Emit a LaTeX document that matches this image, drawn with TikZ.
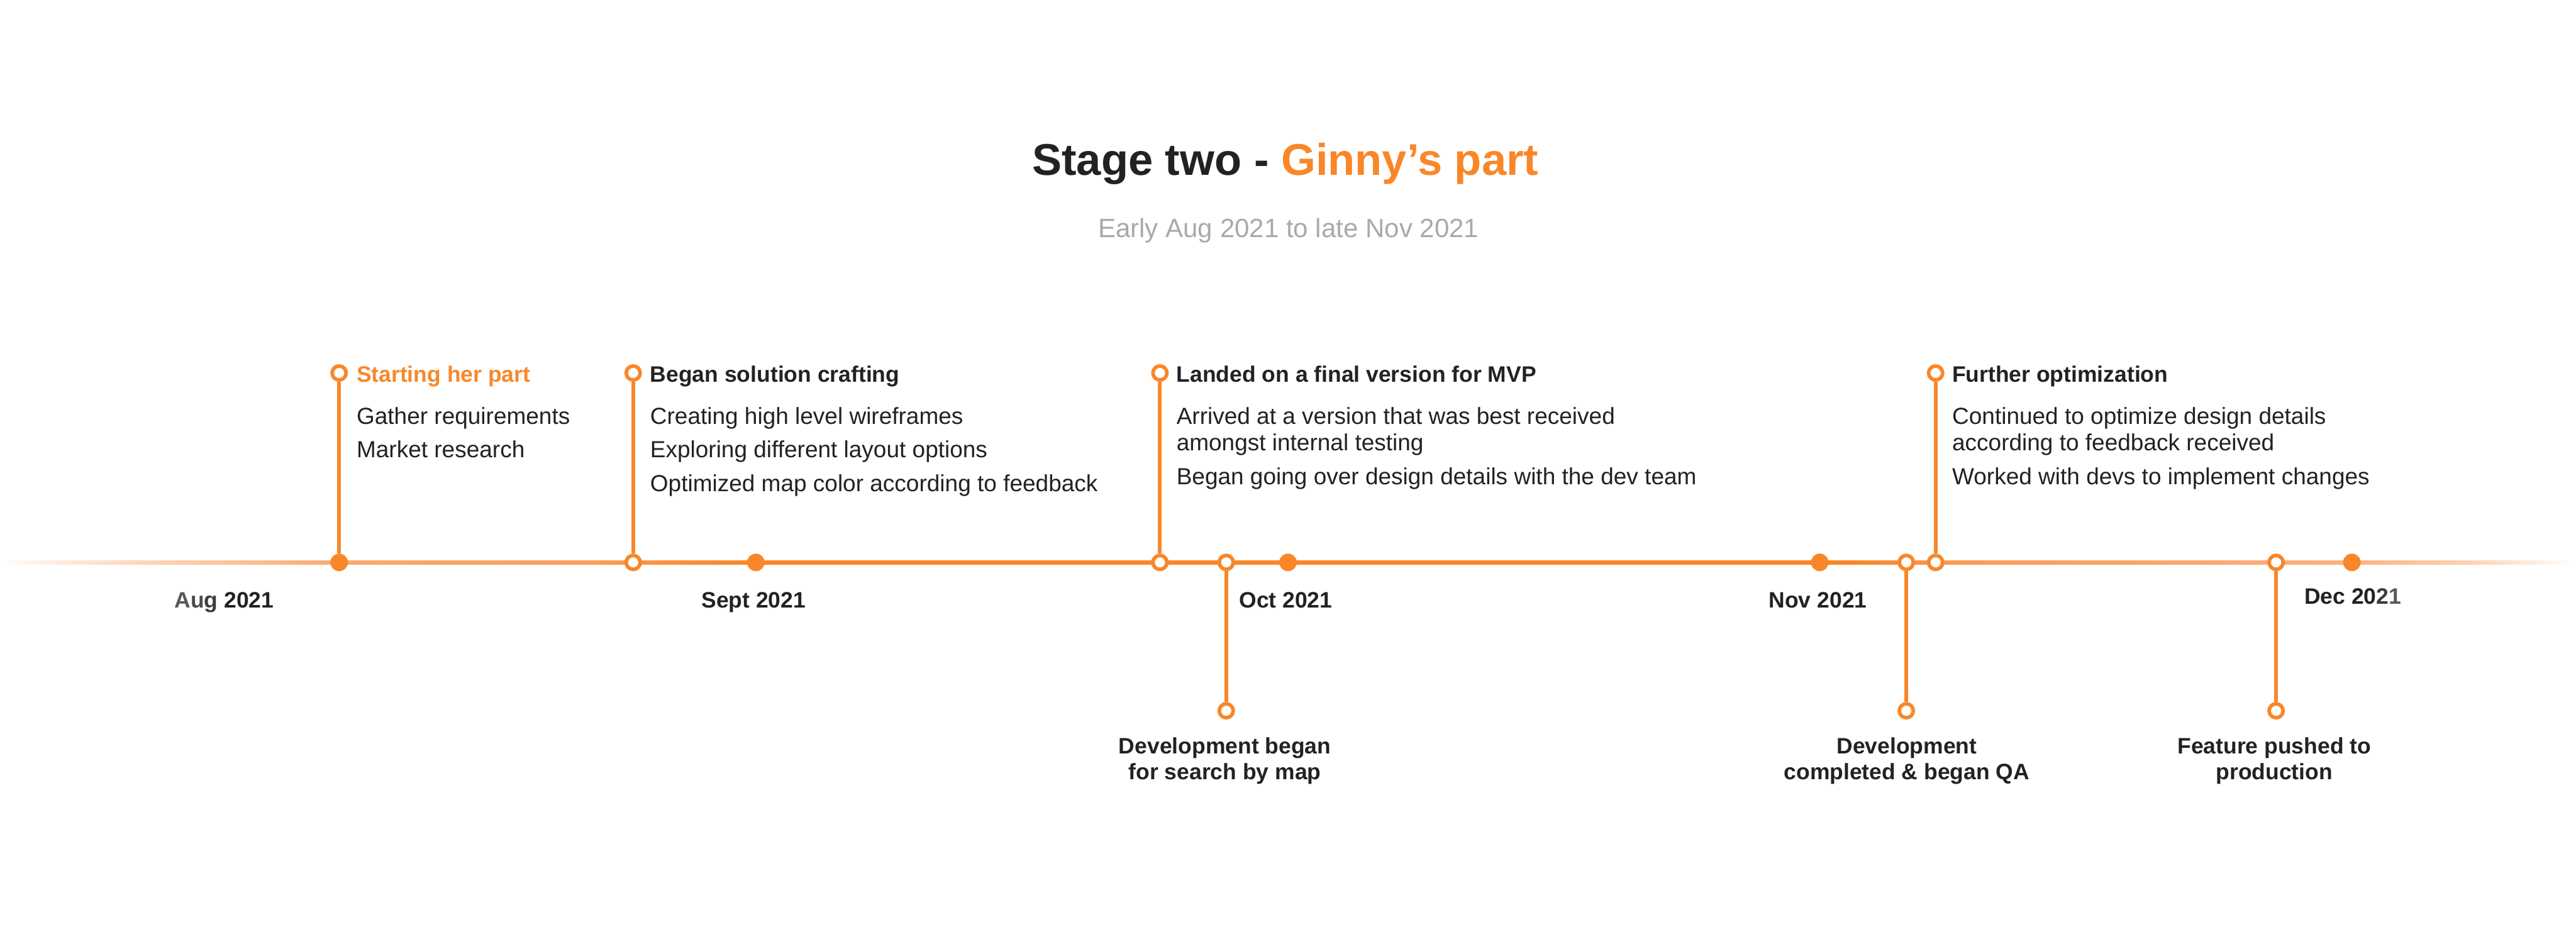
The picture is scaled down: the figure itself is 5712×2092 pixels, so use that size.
\documentclass[tikz,border=0pt]{standalone}
\usepackage{fontspec}
\setmainfont{Liberation Sans}
\definecolor{tlorange}{HTML}{F98729}
\definecolor{tldark}{HTML}{222222}
\definecolor{tlsub}{HTML}{A9A9A9}
\definecolor{fadeA}{HTML}{585858}
\definecolor{fadeB}{HTML}{4A4A4A}
\definecolor{fadeC}{HTML}{3C3C3C}
\definecolor{lnA}{HTML}{FFF4EC}
\definecolor{lnB}{HTML}{FDD3B4}
\definecolor{lnC}{HTML}{FCB684}
\definecolor{lnD}{HTML}{FBAA70}
\definecolor{lnE}{HTML}{FA9D58}
\definecolor{lnF}{HTML}{FA9B55}
\definecolor{lnG}{HTML}{FBAC76}
\definecolor{lnH}{HTML}{FCB382}
\pgfdeclarehorizontalshading{tlshade}{100bp}{color(0bp)=(white); color(25bp)=(white); color(25.5bp)=(lnA); color(28bp)=(lnB); color(30.5bp)=(lnC); color(31.5bp)=(lnD); color(36.5bp)=(lnE); color(39.5bp)=(tlorange); color(61bp)=(tlorange); color(63bp)=(lnF); color(69bp)=(lnG); color(70.75bp)=(lnH); color(73bp)=(lnB); color(75bp)=(white); color(100bp)=(white)}
\tikzset{
  odot/.style={circle, draw=tlorange, fill=white, line width=2pt, minimum size=7.75pt, inner sep=0pt},
  fdot/.style={circle, fill=tlorange, minimum size=9.75pt, inner sep=0pt},
  stem/.style={draw=tlorange, line width=2pt},
  head/.style={font=\bfseries\fontsize{12.375pt}{14pt}\selectfont, text=tldark, anchor=base west, inner sep=0pt},
  body/.style={font=\fontsize{12.9pt}{14.5pt}\selectfont, text=tldark, anchor=base west, inner sep=0pt},
  datelab/.style={font=\bfseries\fontsize{12.375pt}{14pt}\selectfont, text=tldark, anchor=base, inner sep=0pt},
  blab/.style={font=\bfseries\fontsize{12.375pt}{14pt}\selectfont, text=tldark, anchor=base, inner sep=0pt},
}
\begin{document}
\begin{tikzpicture}[x=0.25pt,y=-0.25pt]
\useasboundingbox[fill=white] (0,0) rectangle (5712,2092);
% title
\node[font=\bfseries\fontsize{24.6pt}{28pt}\selectfont, text=tldark, anchor=base, inner sep=0pt] (title) at (2850,388) {Stage two - \textcolor{tlorange}{Ginny’s part}};
\node[font=\fontsize{14.65pt}{17pt}\selectfont, text=tlsub, anchor=base, inner sep=0pt] (subtitle) at (2857,527) {Early Aug 2021 to late Nov 2021};
% timeline
\shade[shading=tlshade] (0,1243) rectangle (5712,1251);
% dots on the line
\node[fdot] (d1) at (752,1247) {};
\node[odot] (d2) at (1404,1247) {};
\node[fdot] (d3) at (1676,1247) {};
\node[odot] (d4) at (2572,1247) {};
\node[odot] (d5) at (2719,1247) {};
\node[fdot] (d6) at (2856,1247) {};
\node[fdot] (d7) at (4035,1247) {};
\node[odot] (d8) at (4227,1247) {};
\node[odot] (d9) at (4292,1247) {};
\node[odot] (d10) at (5047,1247) {};
\node[fdot] (d11) at (5215,1247) {};
% top markers
\node[odot] (t1) at (752,827) {};
\node[odot] (t2) at (1404,827) {};
\node[odot] (t4) at (2572,827) {};
\node[odot] (t9) at (4292,827) {};
% bottom markers
\node[odot] (b5) at (2719,1576) {};
\node[odot] (b8) at (4227,1576) {};
\node[odot] (b10) at (5047,1576) {};
% stems
\draw[stem] (t1) -- (d1);
\draw[stem] (t2) -- (d2);
\draw[stem] (t4) -- (d4);
\draw[stem] (t9) -- (d9);
\draw[stem] (d5) -- (b5);
\draw[stem] (d8) -- (b8);
\draw[stem] (d10) -- (b10);
% item 1
\node[head, text=tlorange] (h1) at (790,847) {Starting her part};
\node[body] (h1a) at (790,941) {Gather requirements};
\node[body] (h1b) at (790,1015) {Market research};
% item 2
\node[head] (h2) at (1441,847) {Began solution crafting};
\node[body] (h2a) at (1441,941) {Creating high level wireframes};
\node[body] (h2b) at (1441,1015) {Exploring different layout options};
\node[body] (h2c) at (1441,1090) {Optimized map color according to feedback};
% item 3
\node[head] (h3) at (2608,847) {Landed on a final version for MVP};
\node[body] (h3a) at (2608,941) {Arrived at a version that was best received};
\node[body] (h3b) at (2608,999) {amongst internal testing};
\node[body] (h3c) at (2608,1075) {Began going over design details with the dev team};
% item 4
\node[head] (h4) at (4328,847) {Further optimization};
\node[body] (h4a) at (4328,941) {Continued to optimize design details};
\node[body] (h4b) at (4328,999) {according to feedback received};
\node[body] (h4c) at (4328,1075) {Worked with devs to implement changes};
% bottom labels
\node[blab] (l5a) at (2716,1671) {Development began};
\node[blab] (l5b) at (2716,1729) {for search by map};
\node[blab] (l8a) at (4228,1671) {Development};
\node[blab] (l8b) at (4228,1729) {completed \& began QA};
\node[blab] (l10a) at (5043,1671) {Feature pushed to};
\node[blab] (l10b) at (5043,1729) {production};
% dates
\node[datelab] (aug) at (497,1348) {\textcolor{fadeA}{A}\textcolor{fadeB}{u}\textcolor{fadeC}{g} 2021};
\node[datelab] (sep) at (1671,1348) {Sept 2021};
\node[datelab] (oct) at (2851,1348) {Oct 2021};
\node[datelab] (nov) at (4031,1348) {Nov 2021};
\node[datelab] (dec) at (5217,1339) {Dec 20\textcolor{fadeC}{2}\textcolor{fadeA}{1}};
\end{tikzpicture}
\end{document}
